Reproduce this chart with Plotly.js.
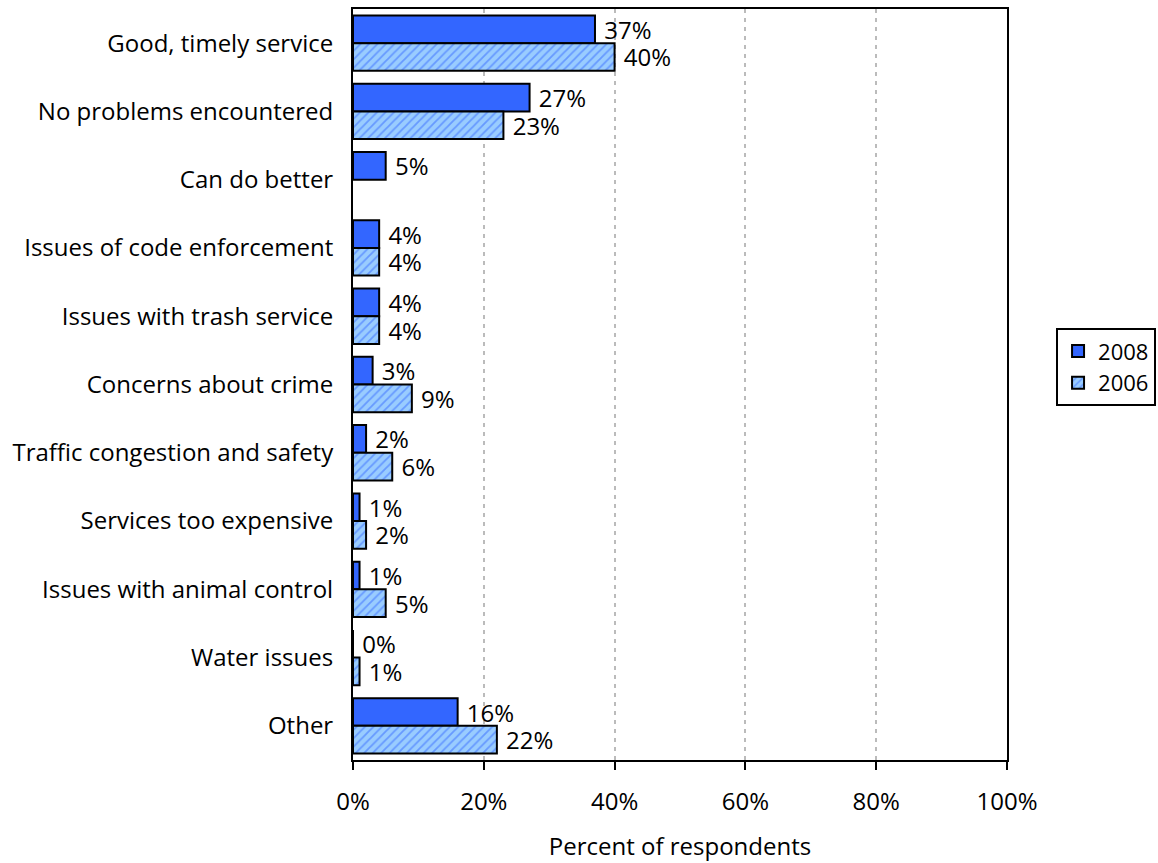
<!DOCTYPE html>
<html>
<head>
<meta charset="utf-8">
<script src="https://cdn.plot.ly/plotly-3.0.1.min.js"></script>
<style>html,body{margin:0;padding:0;background:#fff;}#chart{width:1158px;height:863px;}</style>
</head>
<body>
<div id="chart"></div>
<script>
const categories = [
  "Good, timely service",
  "No problems encountered",
  "Can do better",
  "Issues of code enforcement",
  "Issues with trash service",
  "Concerns about crime",
  "Traffic congestion and safety",
  "Services too expensive",
  "Issues with animal control",
  "Water issues",
  "Other"
];
const values2008 = [37, 27, 5, 4, 4, 3, 2, 1, 1, 0, 16];
const values2006 = [40, 23, null, 4, 4, 9, 6, 2, 5, 1, 22];
const xTickVals = [0, 20, 40, 60, 80, 100];
const xTickText = ["0%", "20%", "40%", "60%", "80%", "100%"];

const FONT = "'Open Sans', Lato, sans-serif";
const FS = 24;

const label = v => (v === null ? "" : "\u00a0" + v + "%");

const trace2008 = {
  type: "bar", orientation: "h", name: "2008",
  y: categories, x: values2008,
  text: values2008.map(label),
  textposition: "outside", cliponaxis: false, constraintext: "none",
  textfont: {family: FONT, size: FS, color: "#000"},
  marker: {color: "#3366ff", line: {color: "#000", width: 2}}
};
const trace2006 = {
  type: "bar", orientation: "h", name: "2006",
  y: categories, x: values2006,
  text: values2006.map(label),
  textposition: "outside", cliponaxis: false, constraintext: "none",
  textfont: {family: FONT, size: FS, color: "#000"},
  marker: {color: "#99ccff", line: {color: "#000", width: 2},
    pattern: {shape: "/", bgcolor: "#99ccff", fgcolor: "#3366ff", size: 6, solidity: 0.3, fillmode: "overlay"}}
};

const layout = {
  width: 1158, height: 863,
  margin: {l: 353, r: 151, t: 9, b: 103, autoexpand: false},
  paper_bgcolor: "#fff", plot_bgcolor: "#fff",
  font: {family: FONT, size: FS, color: "#000"},
  barmode: "group", bargap: 0.19, bargroupgap: 0,
  showlegend: true,
  legend: {x: 1.075, xanchor: "left", y: 0.523, yanchor: "middle",
    bordercolor: "#000", borderwidth: 2, bgcolor: "#fff",
    font: {family: FONT, size: 22, color: "#000"}, traceorder: "normal",
    tracegroupgap: 0, itemwidth: 30},
  xaxis: {
    range: [0, 100], tickvals: xTickVals, ticktext: xTickText,
    showgrid: true, gridcolor: "#bbbbbb", gridwidth: 2, griddash: "4px,5px",
    zeroline: false, showline: true, linecolor: "#000", linewidth: 2, mirror: true,
    ticks: "outside", ticklen: 8, tickwidth: 2, tickcolor: "#000",
    ticklabelstandoff: 11,
    tickfont: {family: FONT, size: FS, color: "#000"},
    title: {text: "Percent of respondents", font: {family: FONT, size: FS, color: "#000"}, standoff: 22},
    fixedrange: true
  },
  yaxis: {
    autorange: "reversed", type: "category",
    showline: true, linecolor: "#000", linewidth: 2, mirror: true,
    showgrid: false, ticks: "", ticklabelstandoff: 13,
    tickfont: {family: FONT, size: FS, color: "#000"},
    fixedrange: true
  }
};

Plotly.newPlot("chart", [trace2008, trace2006], layout, {displayModeBar: false, staticPlot: true});
</script>
</body>
</html>
